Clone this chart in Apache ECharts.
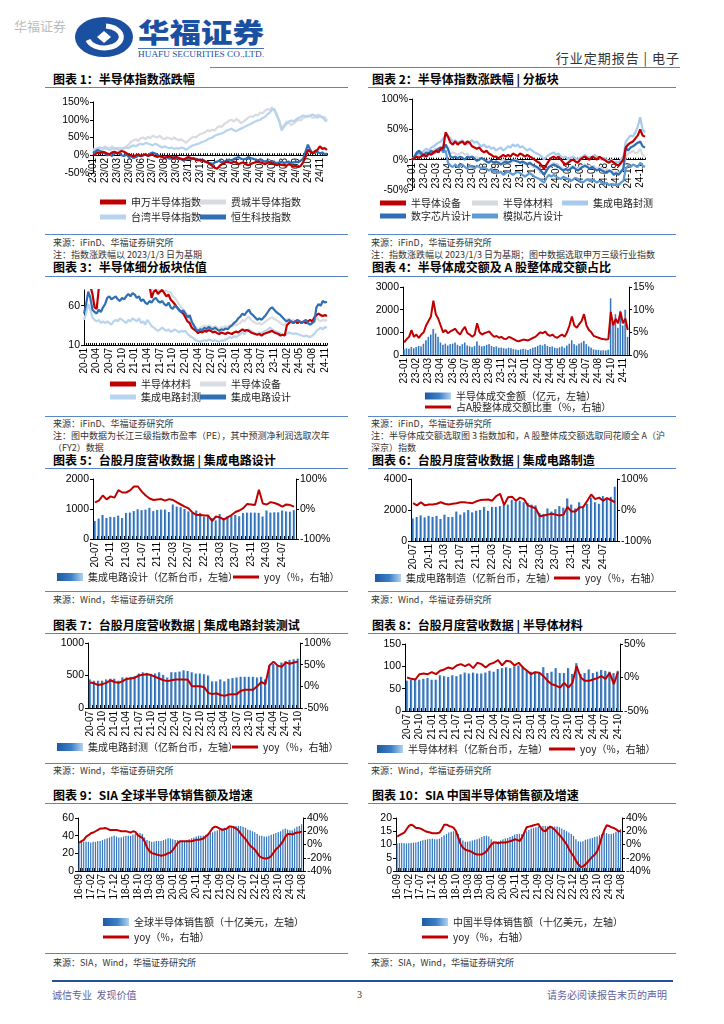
<!DOCTYPE html>
<html><head><meta charset="utf-8">
<script src="https://cdn.jsdelivr.net/npm/echarts@6/dist/echarts.min.js"></script>
<style>
body{margin:0;width:724px;height:1024px;position:relative;background:#fff;font-family:"Noto Sans CJK SC",sans-serif;overflow:hidden}
.a{position:absolute;white-space:nowrap}
.t{font-size:12px;font-weight:bold;line-height:14px;color:#000}
.s{font-size:9px;line-height:11px;color:#333}
.ln{position:absolute;height:1px;background:#5b86c5}
.ch{position:absolute}
</style></head><body>
<div class="a" style="left:14px;top:18px;font-size:13px;line-height:16px;color:#bdbdbd">华福证券</div>
<svg class="a" style="left:0;top:0" width="300" height="66">
<ellipse cx="104" cy="37" rx="29" ry="20" fill="#1b4f9f"/>
<path d="M 88 40 A 17 11 0 1 0 106 26" stroke="#fff" stroke-width="5" fill="none"/>
<path d="M104 31 L111 37 L104 43 L97 37 Z" fill="#fff"/>
<text x="138" y="43" font-size="27" font-weight="900" fill="#1b4f9f" textLength="126" lengthAdjust="spacingAndGlyphs" font-family="Noto Sans CJK SC">华福证券</text>
<line x1="138" y1="48.5" x2="264" y2="48.5" stroke="#1b4f9f" stroke-width="0.8"/>
<text x="138" y="57" font-size="7.5" fill="#1b4f9f" textLength="126" lengthAdjust="spacingAndGlyphs" font-family="Liberation Serif">HUAFU SECURITIES CO.,LTD.</text>
</svg>
<div class="a" style="right:44px;top:50px;font-size:13px;line-height:16px;color:#333;letter-spacing:1px">行业定期报告 | 电子</div>
<div class="ln" style="left:210px;top:67px;width:470px"></div>

<div class="a t" style="left:53px;top:72px">图表 1：半导体指数涨跌幅</div>
<div class="a t" style="left:372px;top:72px">图表 2：半导体指数涨跌幅 | 分板块</div>
<div class="ln" style="left:45px;top:87px;width:303px"></div>
<div class="ln" style="left:368px;top:87px;width:308px"></div>
<div class="ln" style="left:45px;top:234px;width:303px"></div>
<div class="ln" style="left:368px;top:234px;width:308px"></div>
<div class="a s" style="left:53px;top:237px">来源：iFinD、华福证券研究所</div>
<div class="a s" style="left:53px;top:249px">注：指数涨跌幅以 2023/1/3 日为基期</div>
<div class="a s" style="left:371px;top:237px">来源：iFinD，华福证券研究所</div>
<div class="a s" style="left:371px;top:249px">注：指数涨跌幅以 2023/1/3 日为基期；图中数据选取申万三级行业指数</div>

<div class="a t" style="left:53px;top:260px">图表 3：半导体细分板块估值</div>
<div class="a t" style="left:372px;top:260px">图表 4：半导体成交额及 A 股整体成交额占比</div>
<div class="ln" style="left:45px;top:276px;width:303px"></div>
<div class="ln" style="left:368px;top:276px;width:308px"></div>
<div class="ln" style="left:45px;top:416px;width:303px"></div>
<div class="ln" style="left:368px;top:416px;width:308px"></div>
<div class="a s" style="left:53px;top:418px">来源：iFinD、华福证券研究所</div>
<div class="a s" style="left:53px;top:430px">注：图中数据为长江三级指数市盈率（PE），其中预测净利润选取次年</div>
<div class="a s" style="left:53px;top:442px">（FY2）数据</div>
<div class="a s" style="left:371px;top:418px">来源：iFinD，华福证券研究所</div>
<div class="a s" style="left:371px;top:430px">注：半导体成交额选取图 3 指数加和，A 股整体成交额选取同花顺全 A（沪</div>
<div class="a s" style="left:371px;top:442px">深京）指数</div>

<div class="a t" style="left:53px;top:453px">图表 5：台股月度营收数据 | 集成电路设计</div>
<div class="a t" style="left:372px;top:453px">图表 6：台股月度营收数据 | 集成电路制造</div>
<div class="ln" style="left:45px;top:468px;width:303px"></div>
<div class="ln" style="left:368px;top:468px;width:308px"></div>
<div class="ln" style="left:45px;top:591px;width:303px"></div>
<div class="ln" style="left:368px;top:591px;width:308px"></div>
<div class="a s" style="left:53px;top:594px">来源：Wind，华福证券研究所</div>
<div class="a s" style="left:371px;top:594px">来源：Wind，华福证券研究所</div>

<div class="a t" style="left:53px;top:618px">图表 7：台股月度营收数据 | 集成电路封装测试</div>
<div class="a t" style="left:372px;top:618px">图表 8：台股月度营收数据 | 半导体材料</div>
<div class="ln" style="left:45px;top:633px;width:303px"></div>
<div class="ln" style="left:368px;top:633px;width:308px"></div>
<div class="ln" style="left:45px;top:763px;width:303px"></div>
<div class="ln" style="left:368px;top:763px;width:308px"></div>
<div class="a s" style="left:53px;top:765px">来源：Wind，华福证券研究所</div>
<div class="a s" style="left:371px;top:765px">来源：Wind，华福证券研究所</div>

<div class="a t" style="left:53px;top:788px">图表 9：SIA 全球半导体销售额及增速</div>
<div class="a t" style="left:372px;top:788px">图表 10：SIA 中国半导体销售额及增速</div>
<div class="ln" style="left:45px;top:803px;width:303px"></div>
<div class="ln" style="left:368px;top:803px;width:308px"></div>
<div class="ln" style="left:45px;top:953px;width:303px"></div>
<div class="ln" style="left:368px;top:953px;width:308px"></div>
<div class="a s" style="left:53px;top:957px">来源：SIA，Wind，华福证券研究所</div>
<div class="a s" style="left:371px;top:957px">来源：SIA，Wind，华福证券研究所</div>

<div class="a" style="left:52px;top:980px;width:621px;height:2px;background:#244f9c"></div>
<div class="a" style="left:52px;top:989px;font-size:10px;line-height:12px;color:#5f5f9e">诚信专业&nbsp;&nbsp;发现价值</div>
<div class="a" style="left:357px;top:989px;font-size:10px;line-height:12px;color:#333;font-family:'Liberation Serif'">3</div>
<div class="a" style="right:57px;top:989px;font-size:10px;line-height:12px;color:#5f5f9e">请务必阅读报告末页的声明</div>

<div id="c1" class="ch" style="left:40px;top:92px;width:310px;height:140px"></div>
<div id="c2" class="ch" style="left:362px;top:92px;width:320px;height:140px"></div>
<div id="c3" class="ch" style="left:40px;top:280px;width:320px;height:134px"></div>
<div id="c4" class="ch" style="left:362px;top:280px;width:320px;height:134px"></div>
<div id="c5" class="ch" style="left:40px;top:470px;width:320px;height:118px"></div>
<div id="c6" class="ch" style="left:362px;top:470px;width:320px;height:118px"></div>
<div id="c7" class="ch" style="left:40px;top:635px;width:320px;height:125px"></div>
<div id="c8" class="ch" style="left:362px;top:635px;width:320px;height:125px"></div>
<div id="c9" class="ch" style="left:40px;top:805px;width:320px;height:145px"></div>
<div id="c10" class="ch" style="left:362px;top:805px;width:320px;height:145px"></div>

<script>
// ---------- tick labels ----------
const c1Labels = ['23/01','23/02','23/03','23/05','23/06','23/07','23/08','23/09','23/11','23/12','24/01','24/02','24/04','24/05','24/06','24/07','24/08','24/09','24/10','24/11'];
const c2Labels = ['23-01','23-02','23-03','23-04','23-05','23-07','23-08','23-09','23-10','23-11','23-12','24-01','24-03','24-04','24-05','24-07','24-08','24-09','24-10','24-11'];
const c3Labels = ['20-01','20-04','20-07','20-10','21-01','21-04','21-07','21-10','22-01','22-04','22-07','22-10','23-01','23-04','23-07','23-11','24-02','24-05','24-08','24-11'];
const c4Labels = ['23-01','23-02','23-03','23-04','23-06','23-07','23-08','23-09','23-11','23-12','24-01','24-02','24-04','24-05','24-06','24-07','24-08','24-10','24-11'];

// ---------- chart 1 (%) ----------
const c1Phil = [12,18,20,22,20,25,22,20,25,18, 20,22,18,20,25,30,38,42,45,40, 48,50,45,52,48,55,52,50,55,48, 45,50,48,45,50,45,42,45,40,35, 42,48,52,50,55,60,62,65,70,68, 72,70,78,82,80,88,92,98,100,95, 102,98,90,95,100,105,110,108,115,112, 120,118,125,130,128,135,125,110,100,75, 85,95,92,85,90,95,100,98,105,108, 112,110,105,108,115,110,105,108,98];
const c1Taiwan = [18,15,20,22,18,20,18,15,18,20, 18,15,18,20,22,20,25,28,25,30, 32,30,35,33,30,28,32,30,25,22, 25,22,20,22,18,20,18,22,20,15, 20,25,28,30,32,35,38,40,45,48, 50,55,58,60,62,65,70,72,75,70, 68,72,75,78,82,85,88,92,95,98, 100,105,108,115,120,128,130,115,95,70, 80,88,95,98,95,100,105,108,112,110, 108,112,115,110,105,112,108,100,95];
const c1SW = [0,3,8,5,10,8,5,3,8,10, 5,8,12,10,6,2,0,-3,0,2, -2,0,3,-2,0,2,-3,-5,-2,-5, -8,-5,-3,-6,-8,-5,-8,-10,-12,-8, -5,-8,-10,-12,-15,-12,-15,-18,-20,-25, -30,-35,-38,-30,-25,-22,-18,-20,-22,-18, -20,-25,-22,-20,-25,-28,-25,-22,-20,-18, -20,-22,-25,-22,-20,-23,-25,-28,-25,-27, -28,-30,-25,-28,-32,-30,-33,-30,-20,-5, 15,10,5,12,15,25,18,20,15];
const c1HS = [5,10,15,12,8,5,0,2,-2,5, 8,5,0,-2,2,-5,-3,-8,-5,0, -3,0,2,-2,5,8,5,2,-3,-5, -8,-5,-10,-8,-5,-8,-10,-12,-15,-12, -10,-12,-8,-10,-12,-15,-12,-18,-20,-22, -25,-20,-18,-15,-20,-18,-15,-12,-15,-10, -8,-5,-10,-12,-10,-5,-8,-10,-12,-15, -12,-15,-18,-15,-20,-18,-20,-22,-20,-18, -22,-20,-18,-22,-20,-18,-20,-15,-10,10, 30,15,5,8,10,5,8,3,5];

// ---------- chart 2 (%) ----------
const c2Equip = [0,2,5,3,6,8,5,10,8,12, 15,12,18,20,45,38,28,25,30,25, 28,30,25,30,28,22,20,18,20,15, 12,15,10,8,5,5,2,5,8,5, 8,5,10,8,6,10,8,5,8,5, 3,0,-3,-5,-10,-15,-8,-2,3,5, 2,5,0,-5,-8,-5,-2,0,-3,-5, 0,3,5,2,0,5,3,0,5,2, 0,-3,-5,-2,-5,-8,-10,-5,0,20, 25,28,30,35,40,50,40,38];
const c2Mat = [0,3,5,8,10,12,10,15,12,15, 18,15,20,22,25,15,10,12,10,8, 10,12,8,10,5,5,3,5,0,2, 0,-3,0,-2,-5,-3,-5,-2,0,-3, -2,-5,-3,0,-2,-5,-3,-8,-5,-8, -10,-12,-15,-18,-22,-25,-18,-12,-8,-5, -8,-10,-12,-15,-18,-15,-12,-10,-12,-15, -12,-10,-8,-10,-12,-10,-12,-15,-12,-15, -18,-15,-20,-18,-22,-20,-22,-18,-15,5, 10,12,15,10,12,18,8,5];
const c2Pkg = [0,5,10,8,12,15,18,15,20,22, 25,28,30,35,40,38,35,30,32,28, 30,32,28,25,30,32,28,30,25,22, 25,20,22,18,20,15,18,20,15,18, 22,20,25,22,25,20,22,18,15,18, 15,12,10,8,5,0,5,8,10,12, 8,10,5,3,5,0,3,5,2,0, 3,5,8,5,3,5,8,5,2,0, 3,0,-3,0,-5,-3,-5,0,5,30, 35,40,38,45,55,70,50,45];
const c2Dig = [0,5,12,15,10,8,12,10,15,12, 15,18,20,15,25,18,5,3,5,2, 5,3,0,5,3,5,2,-2,0,3, 0,-3,-5,-2,-5,-3,-5,-8,-5,-3, -5,-3,0,-2,-3,-5,-3,-5,-8,-5, -8,-10,-12,-15,-20,-25,-18,-12,-10,-8, -10,-12,-15,-18,-15,-18,-15,-12,-15,-18, -15,-12,-10,-12,-15,-12,-15,-18,-15,-18, -20,-22,-18,-20,-25,-22,-25,-20,-15,20, 15,20,22,25,28,30,22,20];
const c2Ana = [0,5,10,12,8,5,8,10,12,10, 12,15,18,12,15,-5,-10,-12,-8,-12, -10,-8,-12,-15,-10,-12,-15,-10,-12,-15, -12,-15,-18,-15,-20,-18,-22,-20,-25,-22, -20,-22,-25,-22,-20,-22,-25,-28,-25,-22, -25,-28,-30,-32,-35,-38,-30,-25,-28,-25, -28,-30,-32,-28,-30,-32,-35,-33,-30,-32, -35,-38,-35,-32,-35,-33,-35,-38,-35,-38, -40,-38,-42,-40,-42,-40,-42,-38,-35,-15, -10,-12,-8,-10,-12,-5,-10,-12];

// ---------- chart 3 (PE) ----------
const c3Design = [50,62,78,70,55,52,50,55,52,58, 62,70,72,68,70,72,68,66,70,68, 72,75,72,76,74,70,72,66,68,64, 62,66,64,68,70,66,64,66,62,60, 64,58,56,60,58,54,52,54,50,45, 48,40,35,30,28,30,29,32,30,33, 31,30,32,30,28,30,29,31,30,33, 35,38,40,44,46,50,48,52,55,50, 48,45,42,44,42,45,48,52,56,58, 55,52,50,48,45,42,40,42,40,38, 40,42,40,38,40,42,38,36,38,40, 58,62,60,66,64,65];
const c3Mat = [90,95,92,85,75,58,56,82,90,95, 100,105,110,105,100,95,100,105,110,108, 112,115,110,105,100,98,95,92,90,88, 86,85,70,78,80,75,78,80,76,72, 74,68,65,62,58,55,52,50,45,40, 38,32,30,28,25,27,26,28,27,29, 28,26,27,25,24,26,25,24,26,25, 24,26,27,26,28,30,28,29,28,26, 25,24,23,24,22,24,25,26,27,28, 26,25,24,22,23,22,35,38,40,38, 40,38,40,38,40,38,40,42,40,45, 48,50,48,47,48,47];
const c3Equip = [95,100,98,92,88,85,86,90,95,100, 105,110,108,112,110,105,108,112,115,110, 115,118,112,108,105,100,98,95,92,90, 88,82,80,85,82,80,78,80,78,80, 76,78,72,70,66,62,58,55,52,48, 42,38,34,32,30,32,33,35,33,35, 34,32,34,32,30,33,32,34,33,35, 34,36,35,37,38,42,40,44,46,42, 40,38,37,38,36,38,40,42,44,45, 43,42,40,38,36,35,42,44,40,42, 40,38,40,38,39,38,37,36,38,40, 45,42,40,42,41,42];
const c3Pkg = [42,50,62,55,45,42,40,42,38,40, 38,40,38,36,40,42,40,44,42,40, 38,42,40,44,42,40,44,38,40,36, 42,38,34,32,30,28,30,32,30,28, 30,27,28,30,28,26,28,27,28,24, 22,20,18,16,15,14,15,16,15,17, 16,15,16,15,14,16,15,17,18,20, 19,21,20,22,24,26,24,28,30,28, 26,25,24,26,25,27,28,30,32,30, 28,27,26,25,23,22,24,26,25,24, 25,24,23,22,21,22,21,20,22,24, 28,30,32,30,33,32];

// ---------- chart 4 ----------
const c4Turnover = [250,300,280,350,300,350,400,380,500,650, 800,900,1150,950,800,550,450,500,420,480, 500,550,450,400,480,550,420,380,350,400, 600,420,380,400,450,480,400,350,380,320, 330,300,280,320,300,260,240,220,250,270, 250,220,270,320,350,400,450,420,480,400, 350,380,320,300,340,380,320,420,500,650, 480,420,500,550,620,480,380,320,250,230, 220,200,210,200,230,2500,1300,1800,1200,1950, 1300,2000,800];
const c4Ratio = [2.8,3.5,4.0,5.5,4.0,4.5,3.8,4.5,5.0,6.5, 7.5,8.5,12.0,9.0,8.0,6.5,5.0,5.5,4.8,5.2, 5.5,5.8,5.0,4.5,5.5,6.2,4.8,4.5,4.0,4.5, 7.0,5.0,4.5,4.8,5.0,5.2,4.5,4.0,4.2,3.8, 4.0,3.6,3.5,4.0,3.8,3.5,3.2,3.0,3.2,3.4, 3.3,3.2,3.5,3.8,4.0,4.5,5.0,4.8,5.2,4.5, 4.2,4.5,4.0,3.8,4.2,4.5,4.0,5.0,6.5,8.5, 6.5,6.0,6.8,7.5,9.0,6.5,5.5,5.0,4.2,4.0, 3.8,3.6,3.5,3.4,3.5,9.5,6.5,8.0,7.0,9.5, 7.0,8.0,5.5];

// ---------- charts 5-8 (monthly 20-07 .. 24-10) ----------
const c5Rev = [600,680,800,700,740,730, 780,700,870,880,930,990,960,980,1040,930,970,980, 980,900,1150,1080,1060,1000,920,870,950,870,740,760, 700,620,830,700,760,780,800,760,870,880,880,880, 870,750,950,880,890,890,950,920,910,960];
const c5Yoy = [22,28,45,32,42,38, 63,55,55,62,75,75,58,45,35,30,32,33, 28,33,30,22,15,8,2,-12,-20,-20,-22,-22, -40,-25,-28,-35,-28,-20,-10,-5,3,17,15,13, 64,18,15,23,20,15,8,15,13,8];
const c6Rev = [1450,1550,1650,1520,1620,1550, 1620,1420,1700,1550,1550,1900,1700,1850,2000,1850,1950,2000, 2200,1950,2200,2200,2250,2350,2350,2650,2550,2600,2500,2450, 2350,2300,1800,1750,2100,1900,2050,2250,2150,2750,2350,2100, 2500,2150,2400,2800,2500,2400,2900,2800,2850,3500];
const c6Yoy = [22,15,25,15,18,18, 20,25,20,18,20,22,25,25,23,22,28,32, 33,34,30,45,52,16,41,43,30,40,35,15, 10,5,-20,-18,-15,-12,-15,-18,-15,10,-5,-5, 8,10,30,50,35,40,30,38,32,25];
const c7Rev = [440,420,420,420,440,450, 450,420,470,470,480,490,530,550,540,520,530,550, 510,470,550,550,560,580,570,550,530,530,520,500, 410,410,440,410,450,460,470,480,480,480,480,470, 480,440,650,680,650,700,720,740,750,760];
const c7Yoy = [9,7,3,5,8,14, 10,8,12,17,18,20,25,27,28,26,22,18, 14,12,14,16,16,16,15,0,0,0,-2,-15, -18,-16,-20,-22,-19,-18,-18,-10,-8,-8,-8,0, 10,5,48,57,48,45,55,52,55,57];
const c8Rev = [68,70,72,70,72,74, 70,70,80,78,76,80,78,82,86,84,86,84, 84,86,90,88,94,96,98,96,100,102,100,92, 88,88,85,98,85,88,96,85,85,96,83,107, 83,85,93,85,88,92,90,88,85,90];
const c8Yoy = [0,-2,-3,5,6,5, 8,5,10,12,15,13,18,20,17,20,14,22, 20,15,20,22,26,18,25,24,18,22,15,10, 5,8,7,2,-5,-10,-12,-15,-8,-15,-8,17, 0,-5,-5,-3,-1,2,-2,7,-10,8];

// ---------- charts 9-10 (monthly 16-09 .. 24-08) ----------
const c9Sales = [32,33,33,33, 33,32,33,33,34,34,35,36,37,38,39,40, 39,38,38,39,40,40,40,41,42,43,43,42, 38,35,34,33,33,34,34,34,35,36,37,37, 36,35,35,34,34,34,35,36,37,38,39,40, 40,40,41,42,43,44,45,46,47,48,49,49, 49,50,51,51,51,51,50,49,47,46,45,44, 42,40,40,39,39,40,41,42,43,44,45,47, 48,47,46,46,48,50,51,53];
const c9Yoy = [3,5,7,12, 14,17,18,20,22,24,24,25,24,22,22,22, 22,21,20,20,20,19,18,20,19,14,12,10, 4,-5,-10,-13,-14,-15,-16,-17,-16,-15,-13,-12, -8,-3,2,5,5,5,5,5,5,6,7,7, 8,9,12,15,20,25,27,26,24,22,23,24, 27,27,26,24,21,16,12,8,3,-2,-5,-8, -13,-18,-20,-21,-21,-20,-17,-12,-7,-4,0,5, 12,16,16,15,17,18,18,20];
const c10Sales = [10.5,10.5,10.6,10.5, 10.4,10.5,10.6,10.7,10.8,11.0,11.3,11.6,11.8,12.0,12.1,12.2, 12.0,12.0,12.2,12.8,13.5,14.0,14.5,14.8,15.0,14.8,14.0,12.5, 11.5,11.0,11.0,11.2,11.5,11.8,12.0,12.3,12.8,13.2,13.3,13.0, 12.0,11.2,11.0,11.2,11.5,12.0,12.3,12.5,12.8,13.2,13.8,14.0, 14.0,14.0,14.5,15.0,15.5,16.0,16.2,16.5,16.8,17.0,17.0,17.0, 16.8,16.8,16.8,16.8,16.8,16.5,16.0,15.5,15.0,14.5,14.0,13.2, 12.0,11.2,11.0,11.2,11.8,12.0,12.3,12.5,12.8,13.0,13.5,14.0, 14.5,14.3,14.0,14.0,14.2,14.8,15.2,15.8];
const c10Yoy = [12,14,16,18, 23,28,30,28,25,25,24,22,20,19,18,17, 17,17,18,23,30,30,28,27,25,20,10,0, -5,-8,-9,-10,-12,-14,-15,-15,-15,-13,-10,-5, 0,3,3,2,3,3,3,4,5,6,8,7, 5,10,18,26,27,28,29,30,31,25,21,20, 24,27,25,22,18,14,10,5,0,-7,-13,-18, -25,-30,-34,-33,-30,-26,-22,-18,-15,-10,0,12, 22,29,28,26,25,23,20,20];

// ---------- helpers ----------
function expandCats(labels, per, total){
  const out=[];
  for(let g=0; g<labels.length && out.length<total; g++){
    for(let k=0; k<per && out.length<total; k++){ out.push(k===0 ? labels[g] : labels[g]+'#'+k); }
  }
  return out;
}
function monthCats(y, m, n){
  const out=[];
  for(let i=0;i<n;i++){ out.push(String(y%100).padStart(2,'0')+'-'+String(m).padStart(2,'0')); m++; if(m>12){m=1;y++;} }
  return out;
}
const AXF = 'Liberation Sans, Arial, sans-serif';
const CJK = '"Noto Sans CJK SC", sans-serif';
const RED = '#c00000';
const BLK = {color:'#000', width:1};
function barGrad(){
  return new echarts.graphic.LinearGradient(0,0,1,0,[{offset:0,color:'#1d5aa3'},{offset:0.55,color:'#3d80c6'},{offset:1,color:'#b3d2f0'}]);
}
function lg(name, left, top, h){
  return {data:[{name:name, icon:'rect'}], left:left, top:top, itemWidth:26, itemHeight:h, padding:0, selectedMode:false,
    textStyle:{fontSize:10, color:'#222', fontFamily:CJK}};
}
function yVal(min,max,iv,pct,extra){
  return Object.assign({type:'value', min:min, max:max, interval:iv, splitLine:{show:false},
    axisLine:{show:true, lineStyle:BLK}, axisTick:{show:true, length:3, lineStyle:BLK},
    axisLabel:{formatter: pct ? (v => v + '%') : (v => String(v)), fontSize:10.5, color:'#000', fontFamily:AXF, margin:4}}, extra||{});
}
function xCat(cats, iv, gap, tickLen){
  return {type:'category', data:cats, boundaryGap:gap, axisLine:{lineStyle:BLK},
    axisTick:{show:true, interval:0, inside:true, length:tickLen, lineStyle:BLK},
    axisLabel:{rotate:90, interval:iv, fontSize:10, color:'#000', fontFamily:AXF, margin:3}};
}
// labels hang from the zero line: bottom axis carries labels pulled up, second axis draws the zero line
function xZero(cats, iv, margin){
  return [
    {type:'category', data:cats, boundaryGap:false, position:'bottom', axisLine:{show:false, onZero:false}, axisTick:{show:false},
      axisLabel:{rotate:90, interval:iv, fontSize:10, color:'#000', fontFamily:AXF, margin:margin}},
    {type:'category', data:cats, boundaryGap:false, position:'bottom', axisLine:{show:true, onZero:true, lineStyle:BLK},
      axisTick:{show:true, interval:0, inside:true, length:2, lineStyle:BLK}, axisLabel:{show:false}}
  ];
}
function ln(name, data, color, w, yi){
  return {name:name, type:'line', data:data, yAxisIndex:yi||0, showSymbol:false, symbol:'none',
    lineStyle:{color:color, width:w||2}, itemStyle:{color:color}};
}
function init(id, opt){ const c = echarts.init(document.getElementById(id)); c.setOption(Object.assign({animation:false}, opt)); }

// ---------- chart 1 ----------
init('c1', {
  grid:{left:53, top:10, width:234, height:71},
  legend:[lg('申万半导体指数',60,105,5), lg('费城半导体指数',160,105,5), lg('台湾半导体指数',60,120,5), lg('恒生科技指数',160,120,5)],
  xAxis: xZero(expandCats(c1Labels,5,c1SW.length), 4, -15),
  yAxis: yVal(-50,150,50,true),
  series:[ln('费城半导体指数',c1Phil,'#d8dbe2',2.2), ln('台湾半导体指数',c1Taiwan,'#b7d3ee',2.2), ln('恒生科技指数',c1HS,'#2f6fb5',2.2), ln('申万半导体指数',c1SW,RED,2.2)]
});
// ---------- chart 2 ----------
init('c2', {
  grid:{left:50, top:7, width:233, height:91},
  legend:[lg('半导体设备',18,106,5), lg('半导体材料',110,106,5), lg('集成电路封测',200,106,5), lg('数字芯片设计',18,119,5), lg('模拟芯片设计',110,119,5)],
  xAxis: xZero(expandCats(c2Labels,5,c2Equip.length), 4, -27),
  yAxis: yVal(-50,100,50,true),
  series:[ln('半导体材料',c2Mat,'#d6d9de',2.2), ln('集成电路封测',c2Pkg,'#a8cbeb',2.2), ln('模拟芯片设计',c2Ana,'#5d9ad6',2.2), ln('数字芯片设计',c2Dig,'#2f6fb5',2.2), ln('半导体设备',c2Equip,RED,2.2)]
});
// ---------- chart 3 ----------
init('c3', {
  grid:{left:44, top:10, width:243, height:55},
  legend:[lg('半导体材料',70,99,5), lg('半导体设备',160,99,5), lg('集成电路封测',70,112,5), lg('集成电路设计',160,112,5)],
  xAxis: xCat(expandCats(c3Labels,6,c3Design.length), 5, false, 2),
  yAxis: yVal(10,80,50,false,{axisLabel:{fontSize:10.5, color:'#000', fontFamily:AXF, margin:4, showMaxLabel:false}}),
  series:[ln('半导体设备',c3Equip,'#d9dce2',2.2), ln('集成电路封测',c3Pkg,'#b8d4ef',2.2), ln('半导体材料',c3Mat,RED,2.2), ln('集成电路设计',c3Design,'#2f6fb5',2.2)]
});
// ---------- chart 4 ----------
init('c4', {
  grid:{left:41, top:7, width:226, height:68},
  legend:[lg('半导体成交金额（亿元，左轴）',63,111,7), lg('占A股整体成交额比重（%，右轴）',63,122,3)],
  xAxis: xCat(expandCats(c4Labels,5,c4Turnover.length), 4, true, 0),
  yAxis:[yVal(0,3000,1000,false), yVal(0,15,5,true,{position:'right'})],
  series:[{name:'半导体成交金额（亿元，左轴）', type:'bar', data:c4Turnover, barWidth:'75%', itemStyle:{color:barGrad()}},
          ln('占A股整体成交额比重（%，右轴）',c4Ratio,RED,2,1)]
});
// ---------- monthly bar + yoy ----------
function barLine(id, o){
  init(id, {
    grid:{left:o.g[0], top:o.g[1], width:o.g[2], height:o.g[3]},
    legend:[lg(o.bn,o.lg[0][0],o.lg[0][1],8), lg('yoy（%，右轴）',o.lg[1][0],o.lg[1][1],3)],
    xAxis: xCat(o.cats, o.li, true, 3),
    yAxis:[yVal(o.l[0],o.l[1],o.l[2],false), yVal(o.r[0],o.r[1],o.r[2],true,{position:'right'})],
    series:[{name:o.bn, type:'bar', data:o.bars, barWidth:'62%', itemStyle:{color:barGrad()}},
            ln('yoy（%，右轴）', o.yoy, RED, 2, 1)]
  });
}
const m20 = monthCats(2020,7,c5Rev.length);
const m16 = monthCats(2016,9,c9Sales.length);
barLine('c5',{g:[53,9,203,60], cats:m20, li:3, l:[0,2000,1000], r:[-100,100,100], bars:c5Rev, yoy:c5Yoy, bn:'集成电路设计（亿新台币，左轴）', lg:[[17,102],[193,102]]});
barLine('c6',{g:[49,9,206,62], cats:m20, li:3, l:[0,4000,2000], r:[-100,100,100], bars:c6Rev, yoy:c6Yoy, bn:'集成电路制造（亿新台币，左轴）', lg:[[13,103],[192,103]]});
barLine('c7',{g:[48,8,212,65], cats:m20, li:2, l:[0,1000,500], r:[-50,100,50], bars:c7Rev, yoy:c7Yoy, bn:'集成电路封测（亿新台币，左轴）', lg:[[17,107],[192,107]]});
barLine('c8',{g:[43,9,215,67], cats:m20, li:2, l:[0,150,50], r:[-50,50,50], bars:c8Rev, yoy:c8Yoy, bn:'半导体材料（亿新台币，左轴）', lg:[[15,109],[187,109]]});
barLine('c9',{g:[38,13,225,53], cats:m16, li:4, l:[0,60,20], r:[-40,40,20], bars:c9Sales, yoy:c9Yoy, bn:'全球半导体销售额（十亿美元，左轴）', lg:[[63,112],[63,127]]});
barLine('c10',{g:[34,13,226,53], cats:m16, li:4, l:[0,20,5], r:[-40,40,20], bars:c10Sales, yoy:c10Yoy, bn:'中国半导体销售额（十亿美元，左轴）', lg:[[60,112],[60,127]]});
</script>
</body></html>
